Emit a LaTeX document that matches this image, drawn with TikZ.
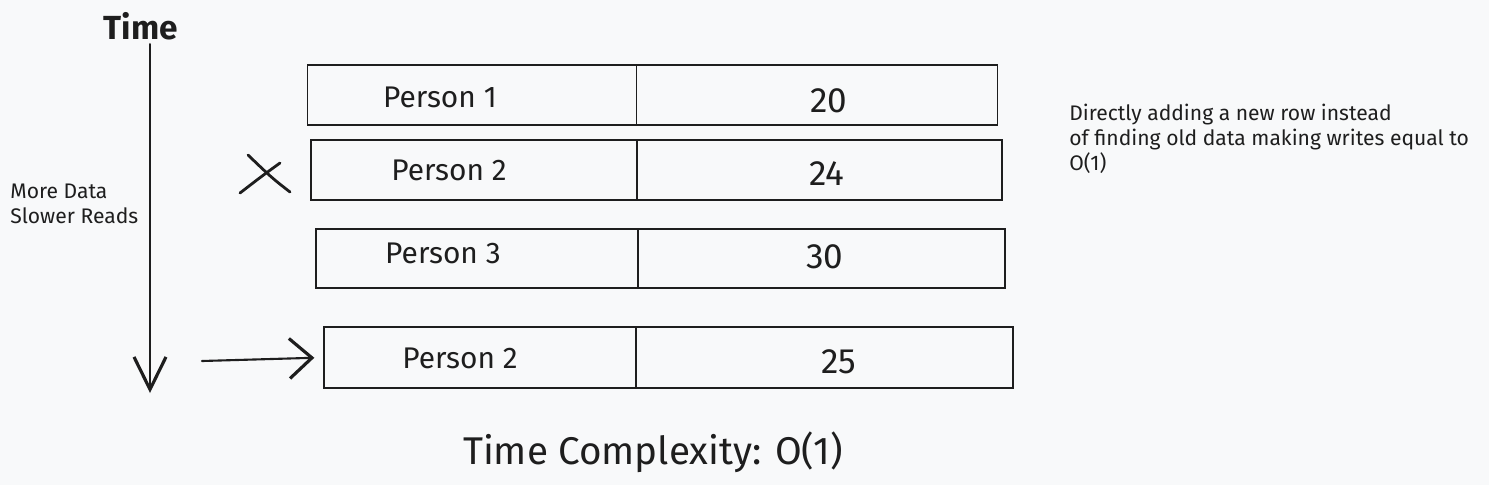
\documentclass[tikz,border=0pt]{standalone}
\usepackage{fontspec}
\setmainfont{Fira Sans}
\usetikzlibrary{arrows.meta}
\usepackage{xcolor}
\definecolor{Paper}{HTML}{F8F9FA}
\definecolor{Ink}{HTML}{1E1E1E}

\begin{document}
\begin{tikzpicture}[
    x=0.02cm, y=-0.02cm,
    cell/.style={
        draw=Ink, line width=0.8pt, minimum height=1.2cm, inner sep=0pt
    },
    entry/.style={font=\fontsize{17}{20}\selectfont, text=Ink, anchor=base},
    val/.style={font=\fontsize{20}{24}\selectfont, text=Ink, anchor=base},
    note/.style={font=\fontsize{12}{14}\selectfont, text=Ink, align=left,
        anchor=north west, inner sep=0pt},
    arr/.style={draw=Ink, line width=1.2pt, line cap=round},
    xstroke/.style={draw=Ink, line width=1.6pt, line cap=round}
]

% background / page size
\fill[Paper] (0,0) rectangle (1489,485);

% =============================================
% TIME AXIS
% =============================================
\node[font=\fontsize{19}{22}\selectfont\bfseries, text=Ink] (time) at (141,26) {Time};
\coordinate (tend) at (150,393);
\draw[arr, -{Straight Barb[length=6.5mm, width=6.4mm, line width=1.8pt]}]
    ([yshift=0.04cm]time.south -| tend) -- (tend);

\node[note] (slow) at (10,184) {More Data\\Slower Reads};

% =============================================
% ROWS
% =============================================
\node[cell, minimum width=6.58cm] (r1a) at (472,95) {};
\node[cell, minimum width=7.22cm] (r1b) at (817,95) {};
\node[entry] (n1) at (440,107) {Person 1};
\node[val] (v1) at (829,112) {20};

\node[cell, minimum width=6.52cm] (r2a) at (474,170) {};
\node[cell, minimum width=7.30cm] (r2b) at (819.5,170) {};
\node[entry] (n2) at (449,180) {Person 2};
\node[val] (v2) at (827,185) {24};

\node[cell, minimum width=6.44cm, minimum height=1.18cm] (r3a) at (477,258.5) {};
\node[cell, minimum width=7.34cm, minimum height=1.18cm] (r3b) at (821.5,258.5) {};
\node[entry] (n3) at (443,263) {Person 3};
\node[val] (v3) at (825,268) {30};

\node[cell, minimum width=6.24cm, minimum height=1.22cm] (r4a) at (480,357.5) {};
\node[cell, minimum width=7.54cm, minimum height=1.22cm] (r4b) at (824.5,357.5) {};
\node[entry] (n4) at (460,368) {Person 2};
\node[val] (v4) at (839,373) {25};

% cross next to the old row
\draw[xstroke] (248,155) .. controls (272,178) .. (290,192);
\draw[xstroke] (240,193) .. controls (262,176) .. (280,163);

% new row arrow
\coordinate (newin) at (202,361);
\draw[arr, shorten >=0.18cm, -{Straight Barb[length=4.5mm, width=8mm, line width=1.8pt]}]
    (newin) -- (r4a.west);

% =============================================
% NOTES
% =============================================
\node[note] (why) at (1069,104)
    {Directly adding a new row instead\\of finding old data making writes equal to\\O(1)};

\node[font=\fontsize{22}{26}\selectfont, text=Ink, anchor=base] (cplx) at (653,464)
    {Time Complexity: O(1)};

\end{tikzpicture}
\end{document}
